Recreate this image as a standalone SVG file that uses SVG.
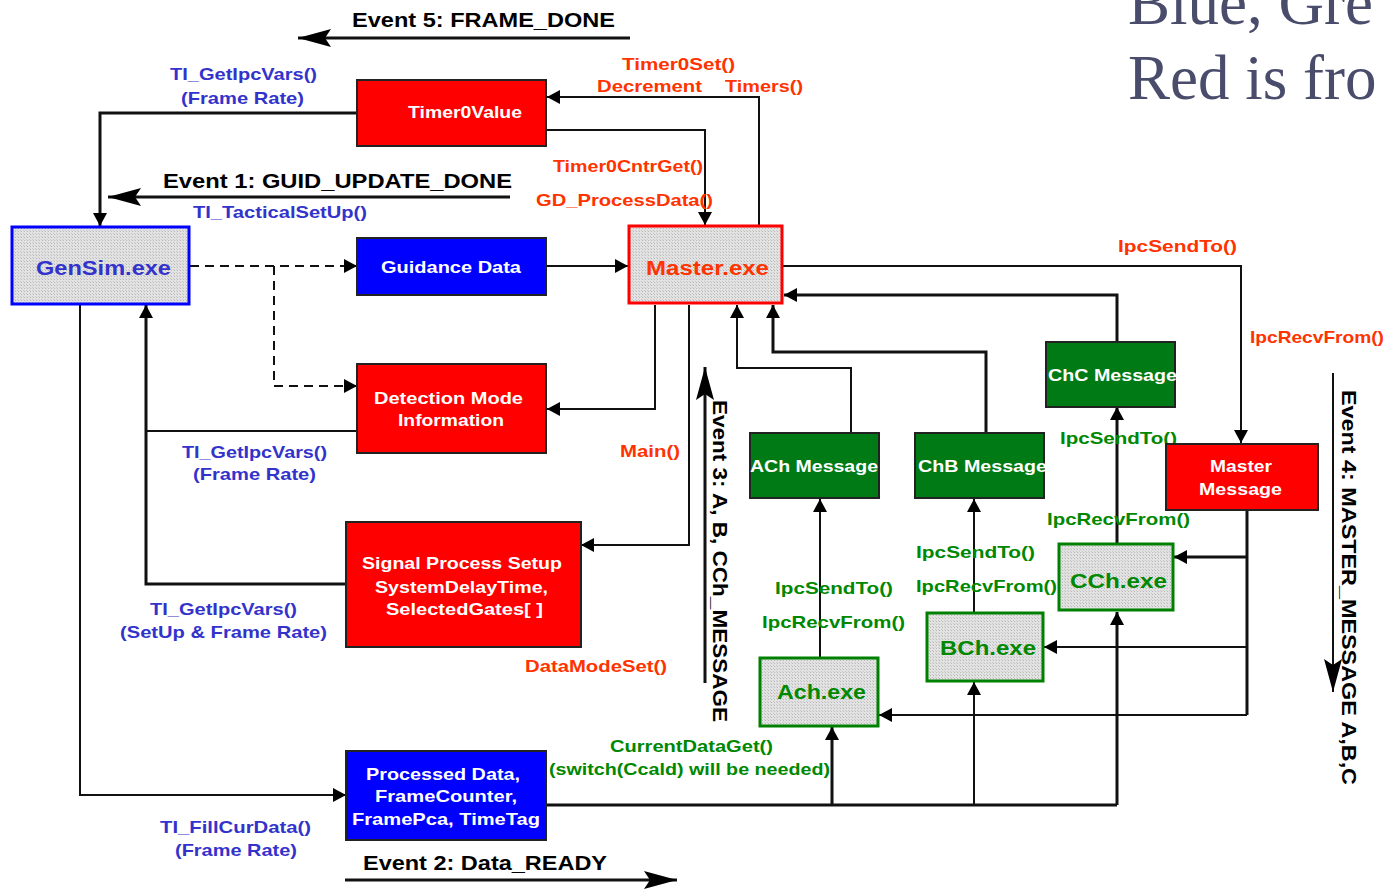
<svg xmlns="http://www.w3.org/2000/svg" width="1385" height="890" viewBox="0 0 1385 890">
  <style>
    .t { font-family: "Liberation Sans", Arial, sans-serif; font-weight: bold; }
    .ev { font-size: 21px; fill: #000; }
    .lb { font-size: 17px; }
    .blue { fill: #3333cc; }
    .red { fill: #ff3300; }
    .grn { fill: #008800; }
    .wt { fill: #fff; font-size: 17px; }
    .box-r { fill: #ff0000; stroke: #222; stroke-width: 2; }
    .box-b { fill: #0000ff; stroke: #222; stroke-width: 2; }
    .box-g { fill: #007a14; stroke: #222; stroke-width: 2; }
    .proc { fill: url(#hatch); stroke-width: 3; }
    .ln { fill: none; stroke: #111; stroke-width: 2; }
    .thk { stroke-width: 3; }
    .dash { stroke-dasharray: 9 6; }
    .arr { marker-end: url(#ah); }
    .ttl { font-family: "Liberation Serif", "Times New Roman", serif; font-size: 63px; fill: #4a4c6c; }
  </style>
  <defs>
    <pattern id="hatch" width="3" height="3" patternUnits="userSpaceOnUse">
      <rect width="3" height="3" fill="#e2e2e2"/>
      <rect width="1" height="1" fill="#b8b8b8"/>
      <rect x="2" y="2" width="1" height="1" fill="#c8c8c8"/>
    </pattern>
    <marker id="ah" markerUnits="userSpaceOnUse" markerWidth="14" markerHeight="14" refX="13" refY="7" orient="auto">
      <path d="M0,0 L13,7 L0,14 z" fill="#000"/>
    </marker>
    <marker id="ahBig" markerUnits="userSpaceOnUse" markerWidth="34" markerHeight="20" refX="33" refY="10" orient="auto">
      <path d="M0,1 L33,10 L0,19 L6,10 z" fill="#000"/>
    </marker>
  </defs>

  <rect width="1385" height="890" fill="#fff"/>

  <!-- slide caption at the top right -->
  <text class="ttl" x="1128" y="24">Blue, Gre</text>
  <text class="ttl" x="1128" y="99">Red is fro</text>

  <g id="connectors">
    <!-- event bars -->
    <path class="ln thk" d="M630,38 L298,38" marker-end="url(#ahBig)"/>
    <path class="ln thk" d="M510,197 L108,197" marker-end="url(#ahBig)"/>
    <path class="ln thk" d="M345,880 L677,880" marker-end="url(#ahBig)"/>
    <path class="ln thk" d="M705,683 L705,367" marker-end="url(#ahBig)"/>
    <path class="ln" d="M1333,373 L1333,692" marker-end="url(#ahBig)"/>

    <!-- timer loop -->
    <path class="ln thk arr" d="M357,113 L100,113 L100,226"/>
    <path class="ln arr" d="M759,225 L759,97 L547,97"/>
    <path class="ln arr" d="M547,130 L705,130 L705,225"/>

    <!-- GenSim outputs -->
    <path class="ln dash arr" d="M190,266 L357,266"/>
    <path class="ln dash arr" d="M274,266 L274,386 L357,386"/>
    <path class="ln arr" d="M546,266 L628,266"/>
    <path class="ln arr" d="M80,305 L80,795 L346,795"/>

    <!-- Master to setup blocks -->
    <path class="ln arr" d="M655,305 L655,409 L547,409"/>
    <path class="ln arr" d="M689,305 L689,545 L581,545"/>

    <!-- setup blocks back to GenSim -->
    <path class="ln" d="M357,431 L146,431"/>
    <path class="ln thk arr" d="M346,584 L146,584 L146,305"/>

    <!-- Master to Master Message -->
    <path class="ln arr" d="M783,266 L1241,266 L1241,443"/>

    <!-- channel messages back to Master -->
    <path class="ln thk arr" d="M1117,342 L1117,295 L784,295"/>
    <path class="ln arr" d="M851,433 L851,368 L737,368 L737,305"/>
    <path class="ln thk arr" d="M986,433 L986,352 L773,352 L773,305"/>

    <!-- exe to channel messages -->
    <path class="ln arr" d="M820,657 L820,499"/>
    <path class="ln arr" d="M974,612 L974,499"/>
    <path class="ln thk arr" d="M1117,543 L1117,407"/>

    <!-- Master Message fan-out -->
    <path class="ln thk" d="M1247,511 L1247,715"/>
    <path class="ln thk arr" d="M1247,557 L1174,557"/>
    <path class="ln arr" d="M1247,647 L1044,647"/>
    <path class="ln arr" d="M1247,715 L879,715"/>

    <!-- Processed Data fan-out -->
    <path class="ln thk" d="M546,805 L1117,805"/>
    <path class="ln thk arr" d="M832,805 L832,727"/>
    <path class="ln arr" d="M974,805 L974,682"/>
    <path class="ln thk arr" d="M1117,805 L1117,612"/>
  </g>

  <!-- connector labels -->
  <g id="labels" class="t lb">
    <text class="ev" x="352" y="27" textLength="263" lengthAdjust="spacingAndGlyphs">Event 5: FRAME_DONE</text>
    <text class="ev" x="163" y="188" textLength="349" lengthAdjust="spacingAndGlyphs">Event 1: GUID_UPDATE_DONE</text>
    <text class="ev" x="363" y="870" textLength="244" lengthAdjust="spacingAndGlyphs">Event 2: Data_READY</text>
    <text class="ev" transform="translate(713,400) rotate(90)" x="0" y="0" textLength="322" lengthAdjust="spacingAndGlyphs">Event 3: A, B, CCh_MESSAGE</text>
    <text class="ev" transform="translate(1342,390) rotate(90)" x="0" y="0" textLength="395" lengthAdjust="spacingAndGlyphs">Event 4: MASTER_MESSAGE A,B,C</text>

    <text class="blue" x="170" y="80" textLength="147" lengthAdjust="spacingAndGlyphs">TI_GetIpcVars()</text>
    <text class="blue" x="181" y="104" textLength="123" lengthAdjust="spacingAndGlyphs">(Frame Rate)</text>
    <text class="blue" x="193" y="218" textLength="174" lengthAdjust="spacingAndGlyphs">TI_TacticalSetUp()</text>
    <text class="blue" x="182" y="458" textLength="145" lengthAdjust="spacingAndGlyphs">TI_GetIpcVars()</text>
    <text class="blue" x="193" y="480" textLength="123" lengthAdjust="spacingAndGlyphs">(Frame Rate)</text>
    <text class="blue" x="150" y="615" textLength="147" lengthAdjust="spacingAndGlyphs">TI_GetIpcVars()</text>
    <text class="blue" x="120" y="638" textLength="207" lengthAdjust="spacingAndGlyphs">(SetUp &amp; Frame Rate)</text>
    <text class="blue" x="160" y="833" textLength="151" lengthAdjust="spacingAndGlyphs">TI_FillCurData()</text>
    <text class="blue" x="175" y="856" textLength="122" lengthAdjust="spacingAndGlyphs">(Frame Rate)</text>

    <text class="red" x="622" y="70" textLength="113" lengthAdjust="spacingAndGlyphs">Timer0Set()</text>
    <text class="red" x="597" y="92" textLength="105" lengthAdjust="spacingAndGlyphs">Decrement</text>
    <text class="red" x="725" y="92" textLength="78" lengthAdjust="spacingAndGlyphs">Timers()</text>
    <text class="red" x="553" y="172" textLength="150" lengthAdjust="spacingAndGlyphs">Timer0CntrGet()</text>
    <text class="red" x="536" y="206" textLength="177" lengthAdjust="spacingAndGlyphs">GD_ProcessData()</text>
    <text class="red" x="620" y="457" textLength="60" lengthAdjust="spacingAndGlyphs">Main()</text>
    <text class="red" x="525" y="672" textLength="142" lengthAdjust="spacingAndGlyphs">DataModeSet()</text>
    <text class="red" x="1118" y="252" textLength="119" lengthAdjust="spacingAndGlyphs">IpcSendTo()</text>
    <text class="red" x="1250" y="343" textLength="134" lengthAdjust="spacingAndGlyphs">IpcRecvFrom()</text>

    <text class="grn" x="1060" y="444" textLength="117" lengthAdjust="spacingAndGlyphs">IpcSendTo()</text>
    <text class="grn" x="1047" y="525" textLength="143" lengthAdjust="spacingAndGlyphs">IpcRecvFrom()</text>
    <text class="grn" x="916" y="558" textLength="119" lengthAdjust="spacingAndGlyphs">IpcSendTo()</text>
    <text class="grn" x="916" y="592" textLength="141" lengthAdjust="spacingAndGlyphs">IpcRecvFrom()</text>
    <text class="grn" x="775" y="594" textLength="118" lengthAdjust="spacingAndGlyphs">IpcSendTo()</text>
    <text class="grn" x="762" y="628" textLength="143" lengthAdjust="spacingAndGlyphs">IpcRecvFrom()</text>
    <text class="grn" x="610" y="752" textLength="163" lengthAdjust="spacingAndGlyphs">CurrentDataGet()</text>
    <text class="grn" x="549" y="775" textLength="281" lengthAdjust="spacingAndGlyphs">(switch(Ccald) will be needed)</text>
  </g>

  <!-- nodes -->
  <g id="timer0value">
    <rect class="box-r" x="357" y="80" width="189" height="66"/>
    <text class="t wt" x="408" y="118" textLength="114" lengthAdjust="spacingAndGlyphs">Timer0Value</text>
  </g>
  <g id="gensim">
    <rect class="proc" x="12" y="227" width="177" height="77" stroke="#0000ff"/>
    <text class="t" x="36" y="275" font-size="20" fill="#3333cc" textLength="135" lengthAdjust="spacingAndGlyphs">GenSim.exe</text>
  </g>
  <g id="guidance-data">
    <rect class="box-b" x="357" y="238" width="189" height="57"/>
    <text class="t wt" x="381" y="273" textLength="140" lengthAdjust="spacingAndGlyphs">Guidance Data</text>
  </g>
  <g id="master">
    <rect class="proc" x="629" y="226" width="153" height="77" stroke="#ff0000"/>
    <text class="t" x="646" y="275" font-size="20" fill="#ff3300" textLength="123" lengthAdjust="spacingAndGlyphs">Master.exe</text>
  </g>
  <g id="detection-mode">
    <rect class="box-r" x="357" y="364" width="189" height="89"/>
    <text class="t wt" x="374" y="404" textLength="149" lengthAdjust="spacingAndGlyphs">Detection Mode</text>
    <text class="t wt" x="398" y="426" textLength="106" lengthAdjust="spacingAndGlyphs">Information</text>
  </g>
  <g id="signal-process">
    <rect class="box-r" x="346" y="522" width="235" height="125"/>
    <text class="t wt" x="362" y="569" textLength="200" lengthAdjust="spacingAndGlyphs">Signal Process Setup</text>
    <text class="t wt" x="375" y="593" textLength="173" lengthAdjust="spacingAndGlyphs">SystemDelayTime,</text>
    <text class="t wt" x="386" y="615" textLength="157" lengthAdjust="spacingAndGlyphs">SelectedGates[ ]</text>
  </g>
  <g id="processed-data">
    <rect class="box-b" x="346" y="751" width="200" height="89"/>
    <text class="t wt" x="366" y="780" textLength="154" lengthAdjust="spacingAndGlyphs">Processed Data,</text>
    <text class="t wt" x="375" y="802" textLength="142" lengthAdjust="spacingAndGlyphs">FrameCounter,</text>
    <text class="t wt" x="352" y="825" textLength="188" lengthAdjust="spacingAndGlyphs">FramePca, TimeTag</text>
  </g>
  <g id="ach-message">
    <rect class="box-g" x="750" y="433" width="129" height="65"/>
    <text class="t wt" x="750" y="472" textLength="128" lengthAdjust="spacingAndGlyphs">ACh Message</text>
  </g>
  <g id="chb-message">
    <rect class="box-g" x="915" y="433" width="129" height="65"/>
    <text class="t wt" x="918" y="472" textLength="129" lengthAdjust="spacingAndGlyphs">ChB Message</text>
  </g>
  <g id="chc-message">
    <rect class="box-g" x="1046" y="342" width="129" height="65"/>
    <text class="t wt" x="1048" y="381" textLength="129" lengthAdjust="spacingAndGlyphs">ChC Message</text>
  </g>
  <g id="master-message">
    <rect class="box-r" x="1166" y="444" width="152" height="66"/>
    <text class="t wt" x="1210" y="472" textLength="62" lengthAdjust="spacingAndGlyphs">Master</text>
    <text class="t wt" x="1199" y="495" textLength="83" lengthAdjust="spacingAndGlyphs">Message</text>
  </g>
  <g id="cch-exe">
    <rect class="proc" x="1059" y="544" width="114" height="66" stroke="#008000"/>
    <text class="t" x="1070" y="588" font-size="20" fill="#008800" textLength="97" lengthAdjust="spacingAndGlyphs">CCh.exe</text>
  </g>
  <g id="bch-exe">
    <rect class="proc" x="927" y="613" width="116" height="68" stroke="#008000"/>
    <text class="t" x="940" y="655" font-size="20" fill="#008800" textLength="96" lengthAdjust="spacingAndGlyphs">BCh.exe</text>
  </g>
  <g id="ach-exe">
    <rect class="proc" x="760" y="658" width="118" height="68" stroke="#008000"/>
    <text class="t" x="777" y="699" font-size="20" fill="#008800" textLength="89" lengthAdjust="spacingAndGlyphs">Ach.exe</text>
  </g>
</svg>
